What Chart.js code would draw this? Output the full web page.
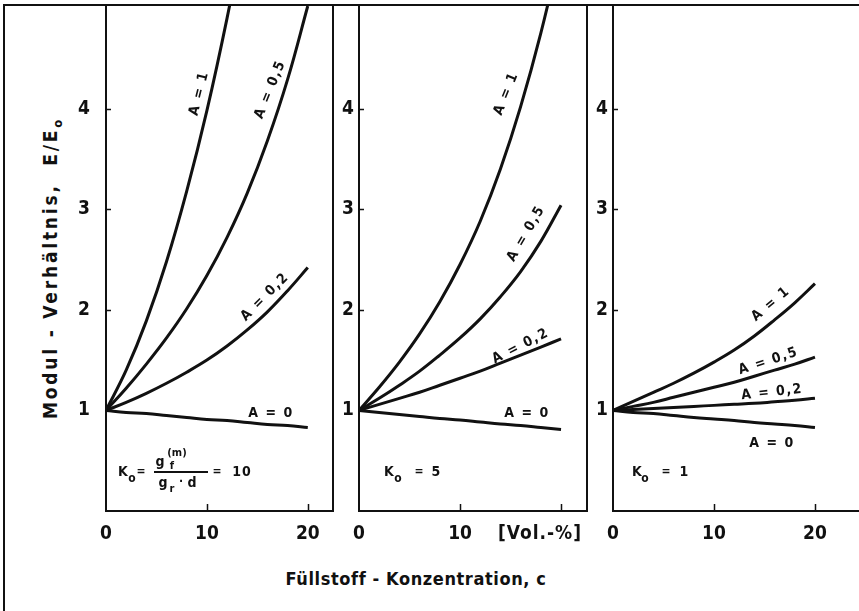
<!DOCTYPE html>
<html>
<head>
<meta charset="utf-8">
<script src="https://cdn.jsdelivr.net/npm/chart.js@4.4.1/dist/chart.umd.min.js"></script>
<style>
  html, body { margin: 0; padding: 0; background: #fff; overflow: hidden; }
  #fig { position: relative; width: 859px; height: 611px; overflow: hidden; background: #fff;
         font-family: "DejaVu Sans Condensed", "DejaVu Sans", sans-serif; font-weight: bold; color: #111; }
  #fig canvas { position: absolute; top: 0; }
  .frame { position: absolute; left: 3px; top: 4px; width: 900px; height: 700px;
           border-left: 2px solid #111; border-top: 2px solid #111; }
  .t { position: absolute; white-space: pre; line-height: 1; }
  .bar { position: absolute; height: 2px; background: #111; }
</style>
</head>
<body>
<div id="fig">
  <div class="frame"></div>
  <canvas id="p1" width="271" height="551" style="left:66px"></canvas>
  <canvas id="p2" width="262" height="551" style="left:329px"></canvas>
  <canvas id="p3" width="287" height="551" style="left:583px"></canvas>
</div>
<script>
// Filler concentration c [Vol.-%]
const conc = [0, 2, 4, 6, 8, 10, 12, 14, 16, 18, 20];

// Modulus ratio E/E0, K0 = 10
const k10_A1  = [1.00, 1.40, 1.89, 2.48, 3.18, 3.98, 4.90, 5.93, null, null, null];
const k10_A05 = [1.00, 1.22, 1.46, 1.72, 2.01, 2.34, 2.72, 3.16, 3.68, 4.29, 5.02];
const k10_A02 = [1.00, 1.08, 1.17, 1.27, 1.38, 1.50, 1.64, 1.80, 1.98, 2.19, 2.42];
const k10_A0  = [1.00, 0.98, 0.97, 0.95, 0.93, 0.91, 0.90, 0.88, 0.86, 0.85, 0.83];

// Modulus ratio E/E0, K0 = 5
const k5_A1  = [1.00, 1.23, 1.48, 1.76, 2.08, 2.45, 2.88, 3.40, 4.02, 4.75, 5.60];
const k5_A05 = [1.00, 1.12, 1.25, 1.39, 1.55, 1.72, 1.91, 2.13, 2.38, 2.68, 3.04];
const k5_A02 = [1.00, 1.06, 1.12, 1.18, 1.25, 1.32, 1.39, 1.47, 1.55, 1.63, 1.71];
const k5_A0  = [1.00, 0.98, 0.96, 0.94, 0.92, 0.905, 0.885, 0.865, 0.85, 0.83, 0.81];

// Modulus ratio E/E0, K0 = 1
const k1_A1  = [1.00, 1.09, 1.18, 1.27, 1.37, 1.48, 1.60, 1.74, 1.90, 2.07, 2.26];
const k1_A05 = [1.00, 1.04, 1.08, 1.13, 1.18, 1.23, 1.28, 1.34, 1.40, 1.46, 1.53];
const k1_A02 = [1.00, 1.01, 1.02, 1.03, 1.04, 1.05, 1.06, 1.07, 1.085, 1.10, 1.12];
const k1_A0  = [1.00, 0.98, 0.97, 0.95, 0.93, 0.915, 0.90, 0.88, 0.865, 0.85, 0.83];

// Axis ticks
const yTicks = [1, 2, 3, 4];
const xTicks = [0, 10, 20];
const xTickLabels1 = ['0', '10', '20'];
const xTickLabels2 = ['0', '10', ''];
const xTickLabels3 = ['0', '10', '20'];

const INK = '#111';
const tickFont = { family: '"DejaVu Sans Condensed", "DejaVu Sans", sans-serif', size: 19, weight: 'bold' };

// Panel frame (left, bottom, optional right edge) and inward-pointing ticks
const framePlugin = {
  id: 'panelFrame',
  afterDatasetsDraw(chart, args, opts) {
    const { ctx, chartArea: a, scales: { x, y } } = chart;
    ctx.save();
    ctx.strokeStyle = INK;
    ctx.lineWidth = 2;
    ctx.beginPath();
    ctx.moveTo(a.left, a.top);
    ctx.lineTo(a.left, a.bottom);
    ctx.lineTo(a.right, a.bottom);
    if (opts.right) ctx.lineTo(a.right, a.top);
    ctx.stroke();
    ctx.lineWidth = 1.5;
    ctx.beginPath();
    y.ticks.forEach(t => {
      const p = Math.round(y.getPixelForValue(t.value)) + 0.5;
      ctx.moveTo(a.left, p); ctx.lineTo(a.left + 5, p);
    });
    x.ticks.forEach(t => {
      if (t.value === 0) return;
      const p = Math.round(x.getPixelForValue(t.value)) + 0.5;
      ctx.moveTo(p, a.bottom); ctx.lineTo(p, a.bottom - 7);
    });
    ctx.stroke();
    ctx.restore();
  }
};

function series(values) {
  return {
    data: conc.map((c, i) => ({ x: c, y: values[i] })),
    borderColor: INK,
    borderWidth: 3,
    pointRadius: 0,
    tension: 0.4,
    fill: false
  };
}

function panel(id, cfg) {
  return new Chart(document.getElementById(id), {
    type: 'line',
    data: { datasets: cfg.curves.map(series) },
    plugins: [framePlugin],
    options: {
      responsive: false,
      animation: false,
      events: [],
      layout: { padding: { top: 5, right: cfg.padRight, left: 0, bottom: 0 } },
      plugins: { legend: { display: false }, tooltip: { enabled: false }, panelFrame: { right: cfg.right } },
      scales: {
        x: {
          type: 'linear', min: 0, max: cfg.xMax,
          grid: { display: false, drawTicks: false }, border: { display: false },
          afterBuildTicks: s => { s.ticks = xTicks.map(v => ({ value: v })); },
          afterFit: s => { s.height = 40; s.paddingLeft = 0; s.paddingRight = 0; },
          ticks: { padding: 12, color: INK, font: tickFont, maxRotation: 0,
                   callback: (v, i) => cfg.xLabels[i] }
        },
        y: {
          type: 'linear', min: 0, max: 5.03,
          grid: { display: false, drawTicks: false }, border: { display: false },
          afterBuildTicks: s => { s.ticks = yTicks.map(v => ({ value: v })); },
          afterFit: s => { s.width = cfg.yWidth; s.paddingTop = 0; s.paddingBottom = 0; },
          ticks: { padding: cfg.yPad, color: INK, font: tickFont, callback: v => String(v) }
        }
      }
    }
  });
}

panel('p1', { curves: [k10_A1, k10_A05, k10_A02, k10_A0], xMax: 22.5,  yWidth: 40, yPad: 16, padRight: 4, right: true,  xLabels: xTickLabels1 });
panel('p2', { curves: [k5_A1,  k5_A05,  k5_A02,  k5_A0],  xMax: 22.57, yWidth: 30, yPad: 5,  padRight: 4, right: true,  xLabels: xTickLabels2 });
panel('p3', { curves: [k1_A1,  k1_A05,  k1_A02,  k1_A0],  xMax: 25.45, yWidth: 30, yPad: 5,  padRight: 0, right: false, xLabels: xTickLabels3 });

// Text placed by its centre point
const fig = document.getElementById('fig');
function put(html, cx, cy, size, rot, spacing) {
  const el = document.createElement('div');
  el.className = 't';
  el.innerHTML = html;
  el.style.fontSize = size + 'px';
  el.style.letterSpacing = (spacing || 0) + 'px';
  el.style.left = cx + 'px';
  el.style.top = cy + 'px';
  el.style.transform = 'translate(-50%, -50%) rotate(' + (rot || 0) + 'deg)';
  fig.appendChild(el);
  return el;
}

// Axis titles
put('Modul - Verhältnis,  E/E<span style="font-size:13px;position:relative;top:5px">o</span>', 50, 268, 19, -90, 2.8);
put('Füllstoff - Konzentration, c', 416, 579, 18, 0, 0.6);
put('[Vol.-%]', 540, 532, 19, 0, 1);

// Curve labels
const curveLabels = [
  ['A = 1',   198,  93, -76], ['A = 0,5', 269,  89, -68], ['A = 0,2', 264, 296, -45], ['A = 0',   271, 412, 0],
  ['A = 1',   505,  93, -68], ['A = 0,5', 525, 233, -60], ['A = 0,2', 520, 345, -27], ['A = 0',   527, 412, 0],
  ['A = 1',   770, 303, -40], ['A = 0,5', 768, 360, -18], ['A = 0,2', 772, 391, -6],  ['A = 0',   772, 442, 0]
];
curveLabels.forEach(([txt, x, y, r]) => put(txt, x, y, 14, r, 1.5));

// K0 definitions
put('K', 123, 471, 14);  put('o', 132, 478, 12);  put('=', 141, 471, 12);
put('g', 160, 461, 14);  put('(m)', 177, 452, 11); put('f', 172, 465, 11);
const bar = document.createElement('div'); bar.className = 'bar';
bar.style.left = '154px'; bar.style.top = '471px'; bar.style.width = '54px'; fig.appendChild(bar);
put('g', 163, 482, 14);  put('r', 172, 488, 11);  put('·', 181, 481, 12); put('d', 192, 482, 14);
put('=', 217, 471, 12);  put('10', 242, 471, 14, 0, 1);

put('K', 389, 471, 14);  put('o', 398, 478, 12);  put('=', 419, 471, 12); put('5', 436, 471, 14);
put('K', 637, 471, 14);  put('o', 645, 478, 12);  put('=', 666, 471, 12); put('1', 684, 471, 14);
</script>
</body>
</html>
